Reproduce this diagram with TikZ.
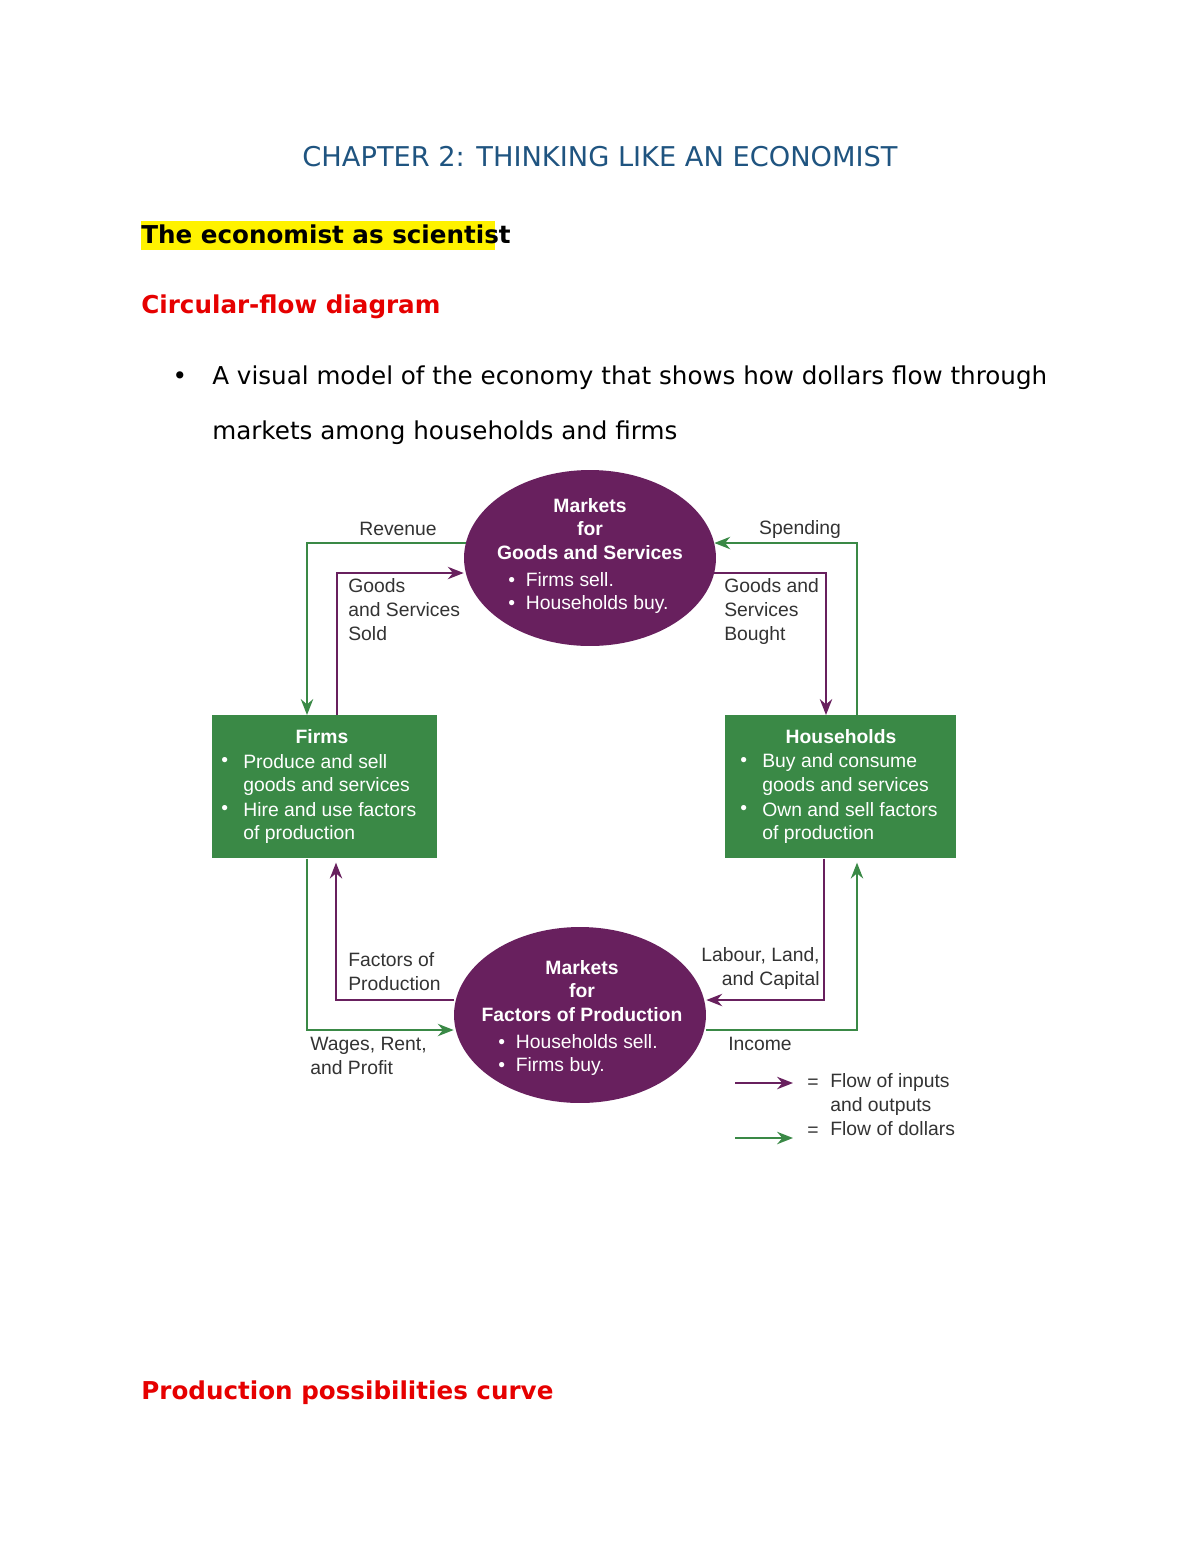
\documentclass[tikz,border=0pt]{standalone}
\usepackage{fontspec}
\setmainfont{DejaVu Sans}
\newfontfamily\dfont{Liberation Sans}
\usetikzlibrary{arrows.meta, calc, positioning, shapes.geometric}
\definecolor{titleblue}{RGB}{31,84,128}
\definecolor{mktpurple}{RGB}{104,32,94}
\definecolor{boxgreen}{RGB}{58,137,70}
\definecolor{headred}{RGB}{230,0,0}
\tikzset{>={Stealth[length=9pt,width=7pt]}}
\tikzset{
  market/.style={ellipse, fill=mktpurple, minimum width=5.04cm, minimum height=3.52cm},
  agent/.style={rectangle, fill=boxgreen, anchor=north west},
  goods/.style={->, mktpurple, line width=1.3pt},
  dollar/.style={->, boxgreen, line width=1.3pt},
  lbl/.style={font=\dfont\fontsize{11}{13.6}\selectfont, text=black!80, align=left, inner sep=0pt},
  wlbl/.style={lbl, text=white},
  head/.style={font=\bfseries\fontsize{14}{17}\selectfont, anchor=base west, inner sep=0pt}
}

\begin{document}
\begin{tikzpicture}[x=0.02cm, y=-0.02cm]
\useasboundingbox[fill=white] (0,0) rectangle (1200,1553);

% page text
\node[font=\fontsize{15.5}{18}\selectfont, text=titleblue, anchor=base] (title) at (600,166) {CHAPTER 2: THINKING LIKE AN ECONOMIST};
\fill[yellow] (141,221) rectangle (495,250);
\node[head] (sci) at (141,243) {The economist as scientist};
\node[head, text=headred] (cfd) at (141,313) {Circular-flow diagram};
\node[font=\fontsize{14}{17}\selectfont, anchor=base] (dot) at (180,384) {\textbullet};
\node[font=\fontsize{14}{17}\selectfont, anchor=base west, inner sep=0pt] (line1) at (212,384) {A visual model of the economy that shows how dollars flow through};
\node[font=\fontsize{14}{17}\selectfont, anchor=base west, inner sep=0pt] (line2) at (212,439) {markets among households and firms};
\node[head, text=headred] (ppc) at (141,1399) {Production possibilities curve};

% markets
\node[market] (gs) at (590,558) {};
\node[market] (fp) at (580,1015) {};
\node[wlbl, align=center, font=\dfont\bfseries\fontsize{11}{13.6}\selectfont] at (590,529) {Markets\\for\\Goods and Services};
\node[wlbl, anchor=west] at (508,580) {\textbullet\ \ Firms sell.};
\node[wlbl, anchor=west] at (508,604) {\textbullet\ \ Households buy.};
\node[wlbl, align=center, font=\dfont\bfseries\fontsize{11}{13.6}\selectfont] at (582,991) {Markets\\for\\Factors of Production};
\node[wlbl, anchor=west] at (498,1042) {\textbullet\ \ Households sell.};
\node[wlbl, anchor=west] at (498,1066) {\textbullet\ \ Firms buy.};

% agents
\node[agent, minimum width=4.5cm, minimum height=2.86cm] (firms) at (212,715) {};
\node[agent, minimum width=4.62cm, minimum height=2.86cm] (hh) at (725,715) {};
\node[wlbl, font=\dfont\bfseries\fontsize{11}{13.6}\selectfont] at (322,737) {Firms};
\node[wlbl, anchor=west] at (221,762) {\textbullet};
\node[wlbl, anchor=west] at (243,762) {Produce and sell};
\node[wlbl, anchor=west] at (243,786) {goods and services};
\node[wlbl, anchor=west] at (221,810) {\textbullet};
\node[wlbl, anchor=west] at (243,810) {Hire and use factors};
\node[wlbl, anchor=west] at (243,834) {of production};
\node[wlbl, font=\dfont\bfseries\fontsize{11}{13.6}\selectfont] at (841,737) {Households};
\node[wlbl, anchor=west] at (740,762) {\textbullet};
\node[wlbl, anchor=west] at (762,762) {Buy and consume};
\node[wlbl, anchor=west] at (762,786) {goods and services};
\node[wlbl, anchor=west] at (740,810) {\textbullet};
\node[wlbl, anchor=west] at (762,810) {Own and sell factors};
\node[wlbl, anchor=west] at (762,834) {of production};

% flows
\draw[dollar] ($(gs.west)+(2,-15)$) -| ([xshift=95*0.02cm]firms.north west);
\draw[goods] ([xshift=125*0.02cm]firms.north west) |- ($(gs.west)+(0,15)$);
\draw[dollar] ([xshift=132*0.02cm]hh.north west) |- ($(gs.east)+(-2,-15)$);
\draw[goods] ($(gs.east)+(-2,15)$) -| ([xshift=101*0.02cm]hh.north west);
\draw[goods] ([xshift=99*0.02cm]hh.south west) |- ($(fp.east)+(0,-15)$);
\draw[dollar] ($(fp.east)+(0,15)$) -| ([xshift=132*0.02cm, yshift=-4*0.02cm]hh.south west);
\draw[goods] ($(fp.west)+(0,-15)$) -| ([xshift=124*0.02cm, yshift=-4*0.02cm]firms.south west);
\draw[dollar] ([xshift=95*0.02cm]firms.south west) |- ($(fp.west)+(0,15)$);

% labels
\node[lbl] at (398,529) {Revenue};
\node[lbl] at (800,529) {Spending};
\node[lbl, anchor=north west] at (348,578) {Goods\\and Services\\Sold};
\node[lbl, anchor=north west] at (724,578) {Goods and\\Services\\Bought};
\node[lbl, anchor=north west] at (348,952) {Factors of\\Production};
\node[lbl, anchor=north east, align=right] at (820,947) {Labour, Land,\\and Capital};
\node[lbl, anchor=north west] at (310,1037) {Wages, Rent,\\and Profit};
\node[lbl, anchor=north west] at (728,1037) {Income};

% legend
\coordinate (lp0) at (735,1083); \coordinate (lp1) at (793,1083);
\coordinate (lg0) at (735,1138); \coordinate (lg1) at (793,1138);
\draw[goods] (lp0) -- (lp1);
\draw[dollar] (lg0) -- (lg1);
\node[lbl] at (813,1084) {=};
\node[lbl] at (813,1132) {=};
\node[lbl, anchor=north west] at (830,1073) {Flow of inputs\\and outputs};
\node[lbl, anchor=north west] at (830,1121) {Flow of dollars};
\end{tikzpicture}
\end{document}
